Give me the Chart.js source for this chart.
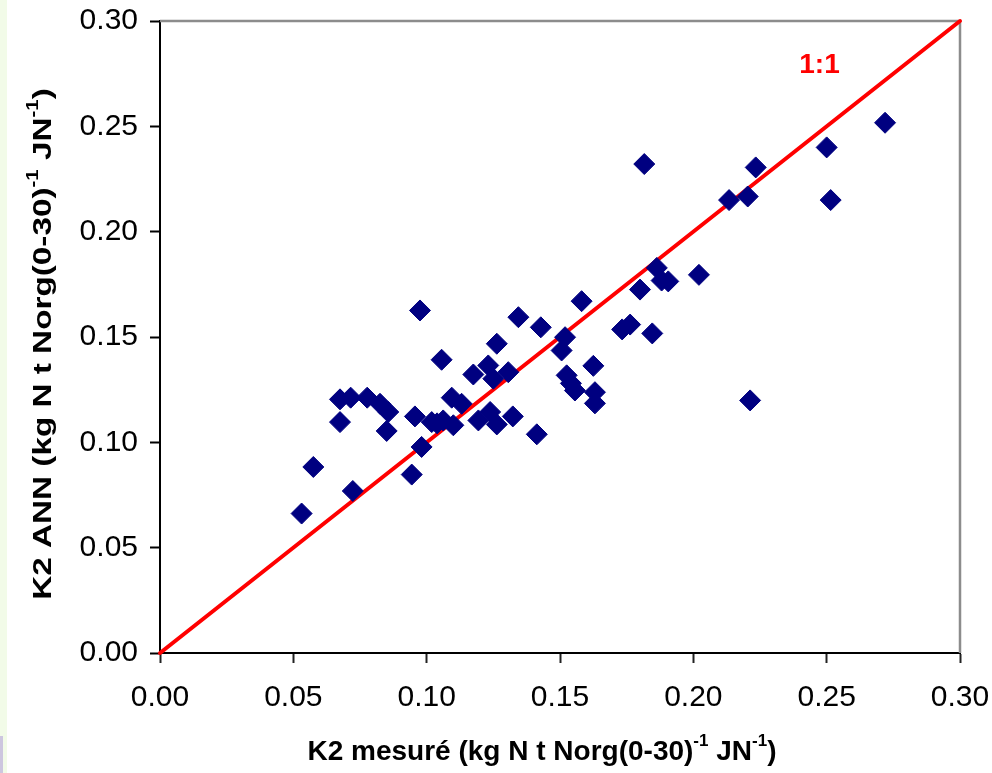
<!DOCTYPE html>
<html>
<head>
<meta charset="utf-8">
<script src="https://cdn.jsdelivr.net/npm/chart.js@4.4.1/dist/chart.umd.min.js"></script>
<style>
  html, body { margin: 0; padding: 0; background: #ffffff; }
  #wrap { position: relative; width: 992px; height: 773px; overflow: hidden; background: #ffffff; }
  #stripe { position: absolute; left: 0; top: 0; width: 7px; height: 773px; background: #f2fbe8; }
  #corner { position: absolute; left: 0; top: 736px; width: 3px; height: 37px; background: #cdc6df; }
  canvas { position: absolute; left: 0; top: 0; }
</style>
</head>
<body>
<div id="wrap">
  <div id="stripe"></div>
  <div id="corner"></div>
  <canvas id="chart" width="992" height="773"></canvas>
</div>
<script>
// ---- data ----
const measuredK2 = [
  0.0531, 0.0575, 0.0675, 0.0675, 0.0715, 0.0723, 0.0777, 0.0825, 0.0856, 0.0850,
  0.0944, 0.0956, 0.0975, 0.0981, 0.1019, 0.1056, 0.1062, 0.1094, 0.1100, 0.1131,
  0.1175, 0.1194, 0.1231, 0.1238, 0.1250, 0.1263, 0.1263, 0.1306, 0.1323, 0.1344,
  0.1413, 0.1428, 0.1506, 0.1519, 0.1525, 0.1541, 0.1556, 0.1581, 0.1625, 0.1631,
  0.1631, 0.1733, 0.1763, 0.1800, 0.1816, 0.1846, 0.1863, 0.1881, 0.1906, 0.2021,
  0.2134, 0.2204, 0.2213, 0.2234, 0.2500, 0.2515, 0.2719, 0.1039
];
const annK2 = [
  0.0662, 0.0883, 0.1096, 0.1204, 0.1212, 0.0769, 0.1212, 0.1183, 0.1144, 0.1054,
  0.0847, 0.1123, 0.1626, 0.0978, 0.1096, 0.1392, 0.1104, 0.1212, 0.1081, 0.1183,
  0.1322, 0.1104, 0.1365, 0.1144, 0.1302, 0.1468, 0.1085, 0.1333, 0.1123, 0.1594,
  0.1038, 0.1546, 0.1436, 0.1499, 0.1318, 0.1280, 0.1246, 0.1670, 0.1363, 0.1238,
  0.1185, 0.1536, 0.1559, 0.1725, 0.2321, 0.1517, 0.1828, 0.1768, 0.1764, 0.1795,
  0.2150, 0.2167, 0.1199, 0.2305, 0.2400, 0.2150, 0.2517, 0.1090
];
const lineX = [0, 0.30];
const lineY = [0, 0.30];
const tickValues = [0, 0.05, 0.10, 0.15, 0.20, 0.25, 0.30];
const tickLabels = ["0.00", "0.05", "0.10", "0.15", "0.20", "0.25", "0.30"];
const xTitleParts = [["K2 mesuré (kg N t Norg(0-30)", false], ["-1", true], [" JN", false], ["-1", true], [")", false]];
const yTitleParts = [["K2 ANN (kg N t Norg(0-30)", false], ["-1", true], [" JN", false], ["-1", true], [")", false]];
const lineLabel = "1:1";
const lineLabelAt = [0.2473, 0.2753];

// ---- drawing ----
const FAMILY = '"Liberation Sans", Arial, Helvetica, sans-serif';

function richWidth(ctx, parts, font, supFont) {
  let w = 0;
  for (const [t, sup] of parts) { ctx.font = sup ? supFont : font; w += ctx.measureText(t).width; }
  return w;
}
function drawRich(ctx, parts, font, supFont, supRaise, x0, y0) {
  let x = x0;
  for (const [t, sup] of parts) {
    ctx.font = sup ? supFont : font;
    ctx.fillText(t, x, sup ? y0 - supRaise : y0);
    x += ctx.measureText(t).width;
  }
}

const decorations = {
  id: 'decorations',
  beforeDatasetsDraw(chart) {
    const { ctx, chartArea: a } = chart;
    ctx.save();
    ctx.strokeStyle = '#8c8c8c';
    ctx.lineWidth = 2.5;
    ctx.beginPath();
    ctx.moveTo(a.left, a.top);
    ctx.lineTo(a.right, a.top);
    ctx.lineTo(a.right, a.bottom);
    ctx.stroke();
    ctx.restore();
  },
  afterDatasetsDraw(chart) {
    const { ctx } = chart;
    const xs = chart.scales.x, ys = chart.scales.y;
    ctx.save();
    ctx.fillStyle = '#ff0000';
    ctx.font = 'bold 28px ' + FAMILY;
    ctx.textAlign = 'center';
    ctx.textBaseline = 'alphabetic';
    ctx.fillText(lineLabel, xs.getPixelForValue(lineLabelAt[0]), ys.getPixelForValue(lineLabelAt[1]));
    ctx.restore();
  },
  afterDraw(chart) {
    const { ctx, chartArea: a } = chart;
    ctx.save();
    ctx.fillStyle = '#000000';
    ctx.textAlign = 'left';
    ctx.textBaseline = 'alphabetic';
    // x title
    const xf = 'bold 28px ' + FAMILY, xs = 'bold 17px ' + FAMILY;
    const xw = richWidth(ctx, xTitleParts, xf, xs);
    const xc = (a.left + a.right) / 2 - 18;
    drawRich(ctx, xTitleParts, xf, xs, 14, xc - xw / 2, a.bottom + 107);
    // y title (rotated, stretched along its length)
    const yf = 'bold 26px ' + FAMILY, ysf = 'bold 16px ' + FAMILY;
    const yw = richWidth(ctx, yTitleParts, yf, ysf);
    const yc = (a.top + a.bottom) / 2 + 7;
    ctx.translate(51, yc);
    ctx.rotate(-Math.PI / 2);
    ctx.scale(1.28, 1);
    drawRich(ctx, yTitleParts, yf, ysf, 13, -yw / 2, 0);
    ctx.restore();
  }
};

const tickFont = { family: FAMILY, size: 30 };

new Chart(document.getElementById('chart'), {
  data: {
    datasets: [
      {
        type: 'scatter',
        label: 'K2',
        data: measuredK2.map((x, i) => ({ x: x, y: annK2[i] })),
        pointStyle: 'rectRot',
        pointRadius: 10.5,
        pointHoverRadius: 10.5,
        backgroundColor: '#000080',
        borderColor: '#000080',
        borderWidth: 1,
        order: 1,
        clip: false
      },
      {
        type: 'line',
        label: '1:1',
        data: lineX.map((x, i) => ({ x: x, y: lineY[i] })),
        borderColor: '#ff0000',
        borderWidth: 4,
        borderCapStyle: 'round',
        pointRadius: 0,
        fill: false,
        order: 2,
        clip: false
      }
    ]
  },
  options: {
    responsive: false,
    animation: false,
    devicePixelRatio: 1,
    layout: { padding: { top: 21, right: 32, left: 0, bottom: 0 } },
    plugins: { legend: { display: false }, tooltip: { enabled: false } },
    scales: {
      x: {
        type: 'linear', position: 'bottom', min: 0, max: 0.30,
        afterBuildTicks: s => { s.ticks = tickValues.map(v => ({ value: v })); },
        afterFit: s => { s.height = 120; s.paddingLeft = 0; s.paddingRight = 0; },
        ticks: {
          font: tickFont, color: '#000', padding: 17, maxRotation: 0, autoSkip: false,
          callback: (v, i) => tickLabels[i]
        },
        grid: { drawOnChartArea: false, drawTicks: true, tickLength: 10, tickColor: '#222', tickWidth: 2 },
        border: { display: true, color: '#000', width: 2 },
        title: { display: false }
      },
      y: {
        type: 'linear', position: 'left', min: 0, max: 0.30,
        afterBuildTicks: s => { s.ticks = tickValues.map(v => ({ value: v })); },
        afterFit: s => { s.width = 160; s.paddingTop = 0; s.paddingBottom = 0; },
        ticks: {
          font: tickFont, color: '#000', padding: 12, autoSkip: false,
          callback: (v, i) => tickLabels[i]
        },
        grid: { drawOnChartArea: false, drawTicks: true, tickLength: 10, tickColor: '#000', tickWidth: 2 },
        border: { display: true, color: '#000', width: 2 },
        title: { display: false }
      }
    }
  },
  plugins: [decorations]
});
</script>
</body>
</html>
